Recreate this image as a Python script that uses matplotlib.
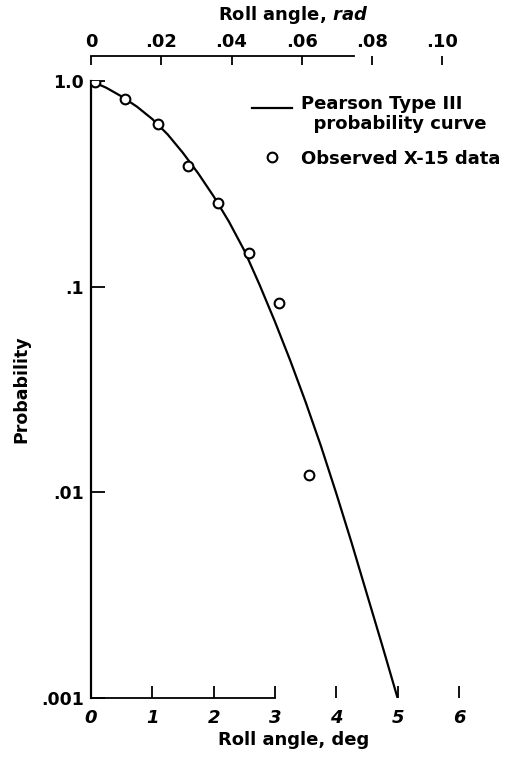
import numpy as np
import matplotlib
matplotlib.use('Agg')
import matplotlib.pyplot as plt
from matplotlib.legend_handler import HandlerLine2D

plt.rcParams['font.family'] = ['DejaVu Sans']
plt.rcParams['font.weight'] = 'bold'
plt.rcParams['axes.labelweight'] = 'bold'
plt.rcParams['mathtext.fontset'] = 'custom'
plt.rcParams['mathtext.it'] = 'DejaVu Sans:italic:bold'
plt.rcParams['mathtext.rm'] = 'DejaVu Sans:bold'

# Pearson Type III curve
curve_deg = [0, 0.25, 0.5, 0.75, 1.0, 1.25, 1.5, 1.75, 2.0, 2.25, 2.5,
             2.75, 3.0, 3.25, 3.5, 3.75, 4.0, 4.25, 4.5, 4.75, 5.0]
curve_prob = [1.0, 0.927, 0.841, 0.750, 0.653, 0.550, 0.447, 0.355, 0.275,
              0.207, 0.150, 0.102, 0.0676, 0.0437, 0.0275, 0.0168, 0.00989,
              0.00569, 0.00320, 0.00180, 0.001]

# observed X-15 data
obs_deg = [0.06, 0.56, 1.09, 1.58, 2.07, 2.58, 3.06, 3.56]
obs_prob = [0.99, 0.815, 0.616, 0.385, 0.256, 0.145, 0.0834, 0.0121]

deg_ticks = [0, 1, 2, 3, 4, 5, 6]
rad_ticks = [0, 0.02, 0.04, 0.06, 0.08, 0.10]
rad_labels = ['0', '.02', '.04', '.06', '.08', '.10']
prob_ticks = [0.001, 0.01, 0.1, 1.0]
prob_labels = ['.001', '.01', '.1', '1.0']


class FirstLineHandler(HandlerLine2D):
    # put the legend line level with the first text line
    def create_artists(self, legend, orig_handle, xdescent, ydescent,
                       width, height, fontsize, trans):
        return super().create_artists(legend, orig_handle, xdescent,
                                      ydescent - 10, width, height,
                                      fontsize, trans)


fig = plt.figure(figsize=(5.29, 7.57), dpi=100)
ax = fig.add_axes([0.172, 0.078, 0.765, 0.815])

curve, = ax.plot(curve_deg, curve_prob, color='black', lw=1.6,
                 label='Pearson Type III\n  probability curve', zorder=2)
ax.plot(obs_deg, obs_prob, 'o', mfc='white', mec='black', mew=1.5, ms=7,
        label='Observed X-15 data', zorder=3)

ax.set_yscale('log')
ax.set_ylim(0.001, 1.0)
ax.set_xlim(0, 6.6)

ax.set_yticks(prob_ticks)
ax.set_yticklabels(prob_labels)
ax.yaxis.set_minor_locator(matplotlib.ticker.NullLocator())
ax.set_xticks(deg_ticks)
ax.set_xticklabels([str(t) for t in deg_ticks], fontstyle='italic')

ax.tick_params(axis='y', direction='in', length=10, width=1.3,
               labelsize=12.5, pad=5)
ax.tick_params(axis='x', direction='in', length=8.5, width=1.3,
               labelsize=13, pad=8, top=False)

for s in ['top', 'right']:
    ax.spines[s].set_visible(False)
ax.spines['left'].set_linewidth(1.6)
ax.spines['bottom'].set_linewidth(1.3)
ax.spines['bottom'].set_bounds(0, 3)

ax.set_xlabel('Roll angle, deg', fontsize=13, labelpad=3)
ax.set_ylabel('Probability', fontsize=12.5, labelpad=8)

# radian scale on top
sec = ax.secondary_xaxis(1.04, functions=(np.deg2rad, np.rad2deg))
sec.set_xticks(rad_ticks)
sec.set_xticklabels(rad_labels)
sec.tick_params(axis='x', direction='in', length=6.5, width=1.3,
                labelsize=13, pad=4)
sec.spines['top'].set_linewidth(1.3)
sec.spines['top'].set_bounds(0, 0.075)
sec.set_xlabel(r'Roll angle, $\it{rad}$', fontsize=13, labelpad=9)

ax.legend(loc='upper left', bbox_to_anchor=(0.398, 0.978), frameon=False,
          fontsize=13, borderpad=0, borderaxespad=0, handlelength=2.2,
          handletextpad=0.5, labelspacing=0.9,
          handler_map={curve: FirstLineHandler()})

fig.savefig('out.png', dpi=100)
